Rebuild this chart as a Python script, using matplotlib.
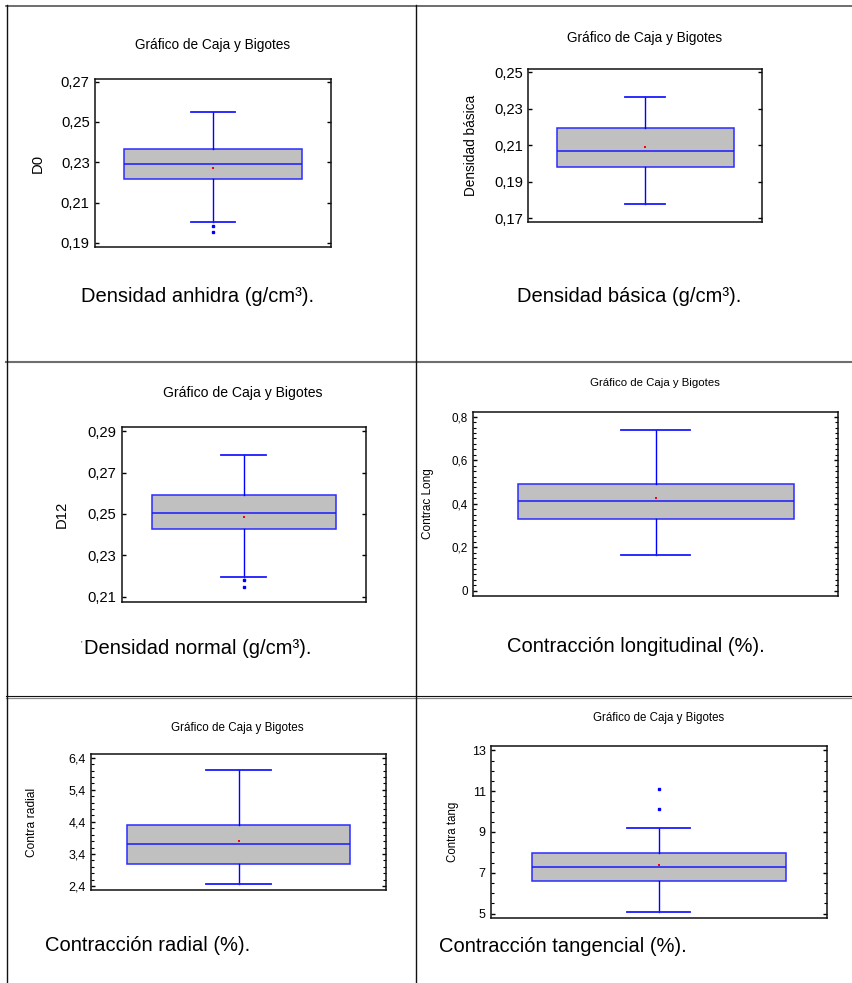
import matplotlib
matplotlib.use("Agg")
import matplotlib.pyplot as plt
import matplotlib.ticker as mticker
import matplotlib.font_manager as fm
from matplotlib.lines import Line2D

W, H = 852, 983

# fonts: the statistics package uses a condensed Arial for most panels
names = {f.name for f in fm.fontManager.ttflist}
if "Liberation Sans Narrow" in names:
    NARROW, NSCALE = "Liberation Sans Narrow", 1.0
else:
    NARROW, NSCALE = "Liberation Sans", 0.82
REGULAR = "Liberation Sans"

# ---- data ----
titles = ["Gráfico de Caja y Bigotes"] * 6
ylabels = ["D0", "Densidad básica", "D12", "Contrac Long", "Contra radial", "Contra tang"]
captions = ["Densidad anhidra (g/cm³).", "Densidad básica (g/cm³).",
            "Densidad normal (g/cm³).", "Contracción longitudinal (%).",
            "Contracción radial (%).", "Contracción tangencial (%)."]

whislo = [0.2002, 0.1778, 0.2195, 0.165, 2.472, 5.10]
q1 = [0.2217, 0.1979, 0.2428, 0.328, 3.10, 6.59]
med = [0.2292, 0.2071, 0.2505, 0.411, 3.724, 7.31]
q3 = [0.2367, 0.2193, 0.259, 0.492, 4.316, 7.98]
whishi = [0.2547, 0.2366, 0.2785, 0.741, 6.032, 9.196]
means = [0.227, 0.2093, 0.2484, 0.425, 3.796, 7.36]
outliers = [[0.1985, 0.1953], [], [0.218, 0.2146], [], [], [11.1, 10.15]]

yticks = [[0.19, 0.21, 0.23, 0.25, 0.27],
          [0.17, 0.19, 0.21, 0.23, 0.25],
          [0.21, 0.23, 0.25, 0.27, 0.29],
          [0, 0.2, 0.4, 0.6, 0.8],
          [2.4, 3.4, 4.4, 5.4, 6.4],
          [5, 7, 9, 11, 13]]
yticklabels = [["0,19", "0,21", "0,23", "0,25", "0,27"],
               ["0,17", "0,19", "0,21", "0,23", "0,25"],
               ["0,21", "0,23", "0,25", "0,27", "0,29"],
               ["0", "0,2", "0,4", "0,6", "0,8"],
               ["2,4", "3,4", "4,4", "5,4", "6,4"],
               ["5", "7", "9", "11", "13"]]
ylims = [(0.188, 0.2713), (0.1678, 0.2516), (0.2077, 0.2918),
         (-0.023, 0.823), (2.275, 6.506), (4.775, 13.21)]
minor_step = [None, None, None, 0.025, 0.2, 0.5]

# ---- layout (pixels in the 852x983 page) ----
ax_px = [(95, 79, 331, 247), (528.3, 69.3, 762.3, 222.3), (121.7, 427.3, 365.7, 601.7),
         (473, 411.7, 838.3, 595.7), (91, 754.3, 386, 890), (491, 746, 826.7, 918.3)]
title_px = [(213, 44.5), (645, 38), (242.8, 392.5), (655.2, 382.5), (237.8, 727.5), (658.3, 718.3)]
ylabel_x = [38, 471.3, 61.8, 427.8, 32, 453]
caption_px = [(81, 296.7), (517, 296), (84, 649), (507, 646), (45, 945.8), (439, 946.7)]
capw = [0.189, 0.171, 0.184, 0.187, 0.22, 0.188]
# condensed face or not, and sizes: (narrow, title, ticks, ylabel)
fonts = [(True, 12, 13, 13), (True, 12, 13, 12), (True, 12.3, 13, 13),
         (False, 8.2, 8.4, 8.5), (True, 10.2, 11, 10.5), (False, 8.3, 9, 8.3)]


def fx(x):
    return x / W


def fy(y):
    return 1 - y / H


fig = plt.figure(figsize=(W / 100, H / 100), dpi=100)
fig.patch.set_facecolor("white")

for i in range(6):
    x0, y0, x1, y1 = ax_px[i]
    ax = fig.add_axes([fx(x0), fy(y1), (x1 - x0) / W, (y1 - y0) / H])
    narrow, ts, ks, ls = fonts[i]
    fam = NARROW if narrow else REGULAR
    sc = NSCALE if narrow else 1.0

    stats = [dict(med=med[i], q1=q1[i], q3=q3[i], whislo=whislo[i], whishi=whishi[i],
                  mean=means[i], fliers=outliers[i])]
    ax.bxp(stats, positions=[0], widths=0.755, capwidths=capw[i], patch_artist=True,
           showmeans=True, showfliers=True,
           boxprops=dict(facecolor="#c0c0c0", edgecolor="#2b2bff", linewidth=1.1),
           medianprops=dict(color="#1a1aff", linewidth=1.1),
           whiskerprops=dict(color="#0000ff", linewidth=1.0),
           capprops=dict(color="#1a1aff", linewidth=1.3),
           flierprops=dict(marker="s", markersize=1.8, markerfacecolor="#0000ff",
                           markeredgecolor="#0000ff", linestyle="none"),
           meanprops=dict(marker="s", markersize=1.6, markeredgewidth=0,
                          markerfacecolor="#ff0000"))

    ax.set_xlim(-0.5, 0.5)
    ax.set_ylim(*ylims[i])
    ax.set_xticks([])
    ax.set_yticks(yticks[i])
    ax.set_yticklabels(yticklabels[i], family=fam, fontsize=ks * sc)
    if minor_step[i]:
        ax.yaxis.set_minor_locator(mticker.MultipleLocator(minor_step[i]))
        ax.tick_params(axis="y", which="minor", direction="in", left=True, right=True,
                       length=2, width=0.8)
    ax.tick_params(axis="y", which="major", direction="in", left=True, right=True,
                   length=3, width=1, pad=3.8)
    for s in ax.spines.values():
        s.set_linewidth(1.1)
        s.set_color("#111111")

    ax.set_ylabel(ylabels[i], family=fam, fontsize=ls * sc)
    ax.yaxis.label.set_verticalalignment("center")
    ax.yaxis.set_label_coords((ylabel_x[i] - x0) / (x1 - x0), 0.5)

    tx, ty = title_px[i]
    fig.text(fx(tx), fy(ty), titles[i], ha="center", va="center", family=fam, fontsize=ts * sc)
    cx, cy = caption_px[i]
    fig.text(fx(cx), fy(cy), captions[i], ha="left", va="center", family=REGULAR, fontsize=14.5)

# stray mark before the third caption
fig.text(fx(81.5), fy(644), "'", ha="center", va="center", family=REGULAR, fontsize=6)

# table grid of the document
def hline(y, x0, x1, color, lw):
    fig.add_artist(Line2D([fx(x0), fx(x1)], [fy(y), fy(y)], color=color, linewidth=lw))


def vline(x, y0, y1, color, lw):
    fig.add_artist(Line2D([fx(x), fx(x)], [fy(y0), fy(y1)], color=color, linewidth=lw))


hline(5.5, 6, W, "#555555", 1.2)
hline(361.7, 6, W, "#6e6e6e", 1.5)
hline(696.3, 6, W, "#111111", 0.8)
hline(698.3, 6, W, "#8a8a8a", 0.9)
vline(6.5, 5, H, "#111111", 1.0)
vline(416, 5, H, "#111111", 1.0)

fig.savefig("out.png", dpi=100, facecolor="white")
